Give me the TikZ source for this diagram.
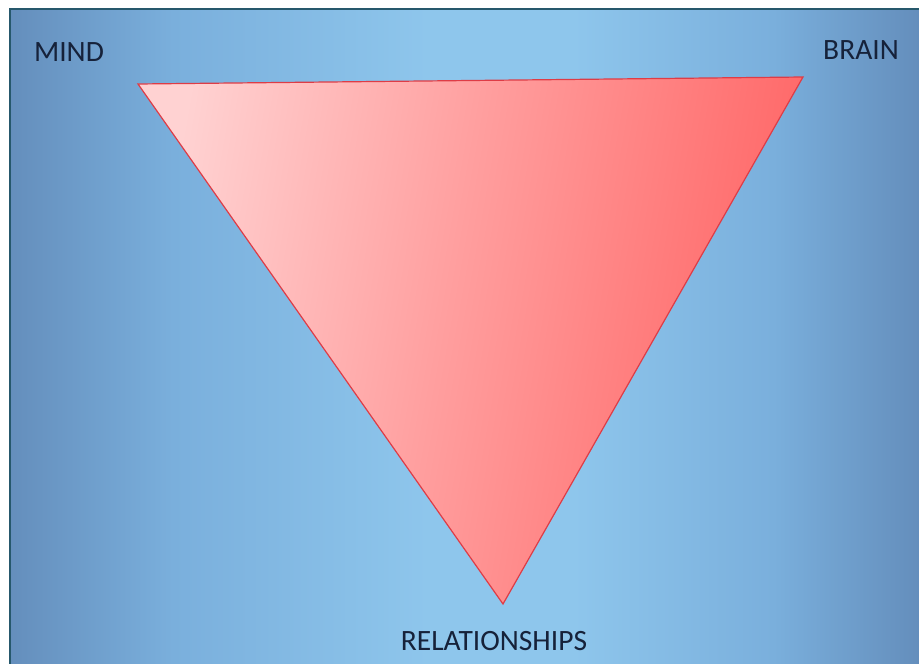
\documentclass[tikz,border=0pt]{standalone}
\usepackage{fontspec}
\setmainfont{Carlito}
\definecolor{bginner}{RGB}{142,198,236}
\definecolor{bgmid}{RGB}{122,175,220}
\definecolor{bgouter}{RGB}{100,142,188}
\definecolor{frameline}{RGB}{38,88,108}
\definecolor{trilight}{RGB}{255,210,210}
\definecolor{trimid}{RGB}{255,158,158}
\definecolor{trired}{RGB}{255,100,100}
\definecolor{triedge}{RGB}{222,60,70}
\definecolor{labeltext}{RGB}{22,34,58}
\pgfdeclarehorizontalshading{bgshade}{100bp}{color(0bp)=(bgouter); color(25bp)=(bgouter); color(34bp)=(bgmid); color(48bp)=(bginner); color(56bp)=(bginner); color(67bp)=(bgmid); color(75bp)=(bgouter); color(100bp)=(bgouter)}
\pgfdeclarehorizontalshading{trishade}{100bp}{color(0bp)=(trilight); color(25bp)=(trilight); color(48bp)=(trimid); color(75bp)=(trired); color(100bp)=(trired)}
\tikzset{
  lbl/.style={font=\fontsize{29.5}{33}\selectfont, text=labeltext, inner sep=0pt, anchor=center},
  tri/.style={shading=trishade, shading angle=-10},
  triline/.style={draw=triedge, line width=1.2pt, line join=miter},
}
\begin{document}
\begin{tikzpicture}[x=1pt,y=-1pt]
\useasboundingbox (0,0) rectangle (919,664);
\fill[white] (0,0) rectangle (919,664);
\shade[shading=bgshade] (9,8) rectangle (919,664);
\draw[frameline, line width=2.5pt] (10,664) -- (10,9) -- (919,9);
\coordinate (tl) at (138,84);
\coordinate (tr) at (803,77);
\coordinate (bt) at (503,604);
\shade[tri] (tl) -- (tr) -- (bt) -- cycle;
\draw[triline] (tl) -- (tr) -- (bt) -- cycle;
\node[lbl] (mind) at (69,52) {MIND};
\node[lbl] (brain) at (861,50) {BRAIN};
\node[lbl] (rel) at (494,641) {RELATIONSHIPS};
\end{tikzpicture}
\end{document}
